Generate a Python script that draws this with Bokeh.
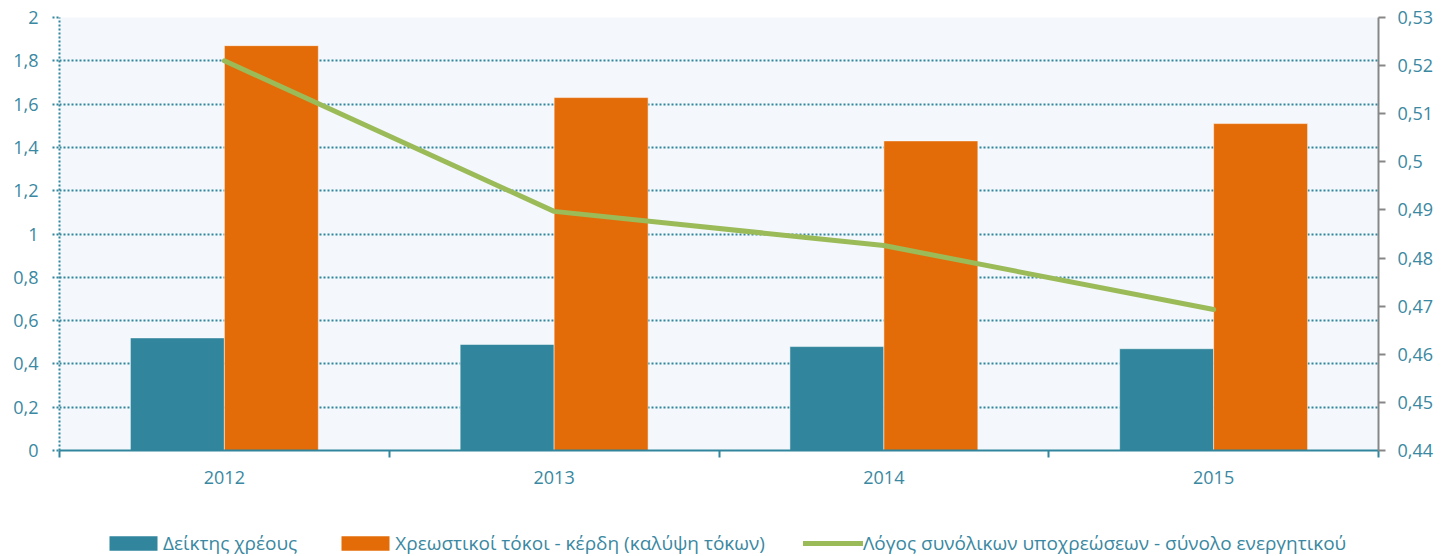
from bokeh.plotting import figure
from bokeh.layouts import column
from bokeh.models import Range1d, LinearAxis, FixedTicker, Legend, LegendItem, ColumnDataSource
from bokeh.embed import file_html
from bokeh.resources import INLINE

years = ["2012", "2013", "2014", "2015"]
debt_index = [0.52, 0.49, 0.48, 0.47]
interest_cover = [1.87, 1.63, 1.43, 1.51]
liab_ratio = [0.521, 0.4897, 0.4826, 0.4693]
left_ticks = [0, 0.2, 0.4, 0.6, 0.8, 1.0, 1.2, 1.4, 1.6, 1.8, 2.0]
left_labels = ["0", "0,2", "0,4", "0,6", "0,8", "1", "1,2", "1,4", "1,6", "1,8", "2"]
right_ticks = [0.44, 0.45, 0.46, 0.47, 0.48, 0.49, 0.50, 0.51, 0.52, 0.53]
right_labels = ["0,44", "0,45", "0,46", "0,47", "0,48", "0,49", "0,5", "0,51", "0,52", "0,53"]
legend_labels = ["Δείκτης χρέους", "Χρεωστικοί τόκοι - κέρδη (καλύψη τόκων)",
                 "Λόγος συνόλικων υποχρεώσεων - σύνολο ενεργητικού"]

BLUE = "#31859C"
ORANGE = "#E36C09"
GREEN = "#9BBB59"
TEXT = "#3A88A1"
FONT = "Open Sans"

n = len(years)
centers = [i + 0.5 for i in range(n)]
bw = 0.285

p = figure(width=1445, height=516, output_backend="svg", toolbar_location=None,
           x_range=Range1d(0, n), y_range=Range1d(0, 2),
           min_border_left=59, min_border_right=67, min_border_top=17, min_border_bottom=66)
p.background_fill_color = "#F4F8FC"
p.border_fill_color = "white"
p.outline_line_color = None
p.extra_y_ranges = {"right": Range1d(0.44, 0.53)}

src = ColumnDataSource(dict(
    xb=[c - bw / 2 for c in centers],
    xo=[c + bw / 2 for c in centers],
    xc=centers,
    debt=debt_index, cover=interest_cover, ratio=liab_ratio))

r1 = p.vbar(x="xb", top="debt", width=bw, source=src, fill_color=BLUE,
            line_color="white", line_alpha=0.5, line_width=1)
r2 = p.vbar(x="xo", top="cover", width=bw, source=src, fill_color=ORANGE,
            line_color="white", line_alpha=0.5, line_width=1)
r3 = p.line(x="xc", y="ratio", source=src, y_range_name="right",
            line_color=GREEN, line_width=5, line_cap="round", line_join="round")

# grid
p.xgrid.visible = False
p.ygrid.ticker = FixedTicker(ticks=left_ticks[1:])
p.ygrid.grid_line_color = BLUE
p.ygrid.grid_line_dash = "2 2"
p.ygrid.grid_line_width = 2

# x axis
xa = p.xaxis[0]
xa.ticker = FixedTicker(ticks=centers, minor_ticks=list(range(n + 1)))
xa.major_label_overrides = {c: y for c, y in zip(centers, years)}
xa.major_tick_out = 0
xa.major_tick_in = 0
xa.minor_tick_out = 7
xa.minor_tick_in = 0
xa.minor_tick_line_color = BLUE
xa.minor_tick_line_width = 2
xa.axis_line_color = BLUE
xa.axis_line_width = 2
xa.major_label_text_font = FONT
xa.major_label_text_font_size = "18px"
xa.major_label_text_color = TEXT
xa.major_label_standoff = 13

# left axis
ya = p.yaxis[0]
ya.ticker = FixedTicker(ticks=left_ticks)
ya.major_label_overrides = {t: l for t, l in zip(left_ticks, left_labels)}
ya.minor_tick_line_color = None
ya.major_tick_out = 7
ya.major_tick_in = 0
ya.major_tick_line_color = BLUE
ya.major_tick_line_width = 2
ya.major_tick_line_dash = "2 2"
ya.axis_line_color = BLUE
ya.axis_line_width = 2
ya.axis_line_dash = "2 2"
ya.major_label_text_font = FONT
ya.major_label_text_font_size = "18px"
ya.major_label_text_color = TEXT
ya.major_label_standoff = 14

# right axis
ra = LinearAxis(y_range_name="right", ticker=FixedTicker(ticks=right_ticks))
ra.major_label_overrides = {t: l for t, l in zip(right_ticks, right_labels)}
ra.minor_tick_line_color = None
ra.major_tick_out = 7
ra.major_tick_in = 0
ra.major_tick_line_color = "#878787"
ra.major_tick_line_width = 2
ra.axis_line_color = "#878787"
ra.axis_line_width = 2
ra.major_label_text_font = FONT
ra.major_label_text_font_size = "18px"
ra.major_label_text_color = TEXT
ra.major_label_standoff = 12
p.add_layout(ra, "right")

# legend strip (separate figure so the legend sits below the axis labels);
# its proxy glyphs lie outside its ranges, so only their legend swatches show
q = figure(width=1445, height=40, output_backend="svg", toolbar_location=None,
           x_range=Range1d(0, 1), y_range=Range1d(0, 1),
           x_axis_location=None, y_axis_location=None,
           min_border_left=0, min_border_right=0, min_border_top=0, min_border_bottom=0)
q.outline_line_color = None
q.background_fill_color = "white"
q.border_fill_color = "white"
q.xgrid.visible = False
q.ygrid.visible = False
l1 = q.vbar(x=[-10], bottom=[-10], top=[-9], width=0.1, fill_color=BLUE, line_color=None)
l2 = q.vbar(x=[-10], bottom=[-10], top=[-9], width=0.1, fill_color=ORANGE, line_color=None)
l3 = q.line(x=[-10, -9], y=[-10, -10], line_color=GREEN, line_width=5, line_cap="round")

legend = Legend(items=[LegendItem(label=legend_labels[0], renderers=[l1]),
                       LegendItem(label=legend_labels[1], renderers=[l2]),
                       LegendItem(label=legend_labels[2], renderers=[l3])],
                orientation="horizontal", location=(44, 0))
legend.border_line_color = None
legend.background_fill_alpha = 0
legend.label_text_font = FONT
legend.label_text_font_size = "19px"
legend.label_text_color = TEXT
legend.glyph_width = 60
legend.glyph_height = 18
legend.label_standoff = 0
legend.spacing = 38
legend.margin = 0
legend.padding = 0
q.add_layout(legend)

open("out.html", "w").write(file_html(column(p, q, spacing=0), INLINE))
